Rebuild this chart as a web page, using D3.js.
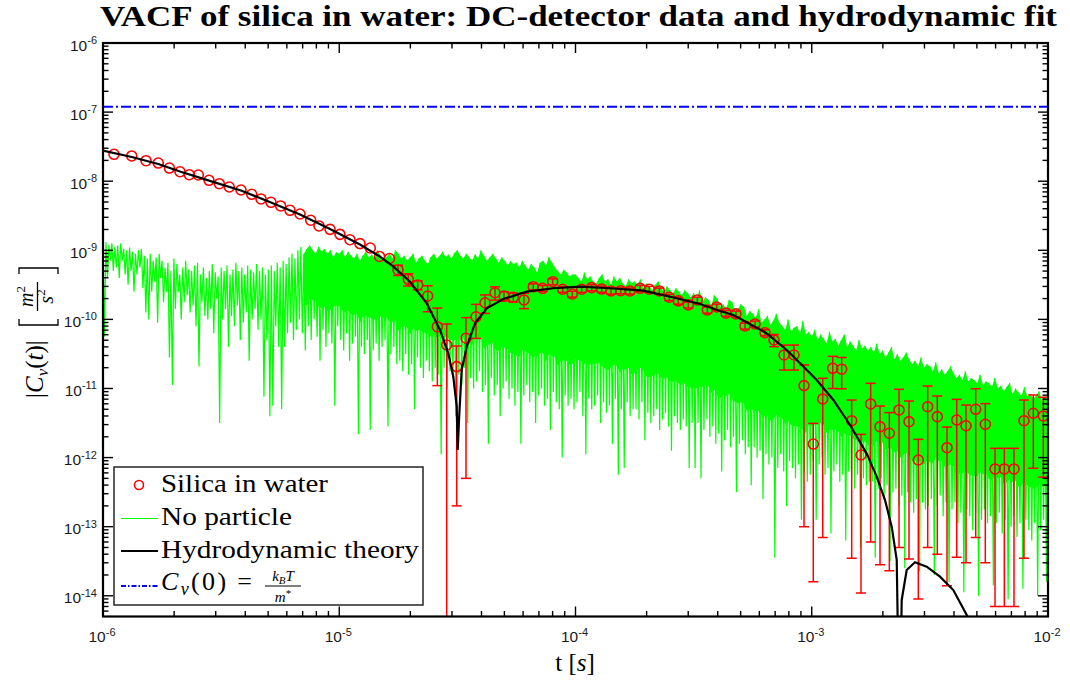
<!DOCTYPE html>
<html>
<head>
<meta charset="utf-8">
<script src="https://cdn.jsdelivr.net/npm/d3@7"></script>
<style>
  html, body { margin: 0; padding: 0; background: #fff; }
  svg { display: block; }
</style>
</head>
<body>
<div id="chart"></div>
<script>
// ---- Data ----

// Silica in water: time [s], |Cv| [m^2/s^2], error bar half width
const silicaT = [1.113e-6, 1.323e-6, 1.521e-6, 1.714e-6, 1.909e-6, 2.118e-6, 2.319e-6, 2.532e-6, 2.810e-6, 3.107e-6,
    3.424e-6, 3.838e-6, 4.261e-6, 4.665e-6, 5.141e-6, 5.651e-6, 6.187e-6, 6.822e-6, 7.572e-6, 8.209e-6,
    9.139e-6, 1.007e-5, 1.110e-5, 1.224e-5, 1.353e-5, 1.481e-5, 1.632e-5, 1.773e-5, 1.960e-5, 2.148e-5,
    2.368e-5, 2.601e-5, 2.850e-5, 3.142e-5, 3.440e-5, 3.793e-5, 4.141e-5, 4.564e-5, 4.982e-5, 5.454e-5,
    6.053e-5, 6.628e-5, 7.263e-5, 8.008e-5, 8.829e-5, 9.693e-5, 1.062e-4, 1.171e-4, 1.291e-4, 1.414e-4,
    1.554e-4, 1.701e-4, 1.875e-4, 2.053e-4, 2.263e-4, 2.495e-4, 2.724e-4, 3.003e-4, 3.278e-4, 3.614e-4,
    3.960e-4, 4.336e-4, 4.779e-4, 5.218e-4, 5.753e-4, 6.341e-4, 6.922e-4, 7.631e-4, 8.412e-4, 9.274e-4,
    1.015e-3, 1.113e-3, 1.227e-3, 1.339e-3, 1.476e-3, 1.616e-3, 1.776e-3, 1.945e-3, 2.130e-3, 2.341e-3,
    2.580e-3, 2.825e-3, 3.096e-3, 3.400e-3, 3.737e-3, 4.108e-3, 4.498e-3, 4.943e-3, 5.428e-3, 5.967e-3,
    6.533e-3, 7.180e-3, 7.913e-3, 8.665e-3, 9.552e-3];
const silicaV = [2.45e-8, 2.32e-8, 1.98e-8, 1.83e-8, 1.55e-8, 1.37e-8, 1.24e-8, 1.23e-8, 1.03e-8, 9.2e-9,
    8.24e-9, 7.46e-9, 6.46e-9, 5.53e-9, 4.95e-9, 4.38e-9, 3.79e-9, 3.35e-9, 2.72e-9, 2.25e-9,
    2.01e-9, 1.70e-9, 1.42e-9, 1.25e-9, 1.08e-9, 8.14e-10, 7.61e-10, 5.19e-10, 3.80e-10, 3.15e-10,
    2.18e-10, 7.84e-11, 4.26e-11, 2.07e-11, 5.33e-11, 1.09e-10, 1.74e-10, 2.43e-10, 2.18e-10, 2.09e-10,
    1.91e-10, 2.97e-10, 2.82e-10, 3.51e-10, 2.73e-10, 2.33e-10, 2.73e-10, 2.88e-10, 2.75e-10, 2.58e-10,
    2.60e-10, 2.58e-10, 2.82e-10, 2.73e-10, 2.58e-10, 2.09e-10, 1.85e-10, 1.62e-10, 1.91e-10, 1.37e-10,
    1.51e-10, 1.23e-10, 1.20e-10, 8.03e-11, 8.58e-11, 6.42e-11, 5.03e-11, 3.05e-11, 3.05e-11, 1.10e-11,
    1.57e-12, 7.05e-12, 1.96e-11, 1.90e-11, 3.42e-12, 1.09e-12, 5.97e-12, 2.80e-12, 2.25e-12, 4.89e-12,
    3.31e-12, 9.23e-13, 5.45e-12, 3.91e-12, 1.39e-12, 3.50e-12, 2.89e-12, 5.00e-12, 3.03e-12, 6.84e-13,
    6.84e-13, 6.84e-13, 3.42e-12, 4.38e-12, 4.00e-12];
const silicaErr = [0, 0, 0, 0, 0, 0, 0, 0, 0, 0,
    0, 0, 0, 0, 0, 0, 0, 0, 0, 0,
    0, 0, 0, 0, 0, 0, 0, 8.8e-11, 7.6e-11, 4.7e-11,
    8.9e-11, 6.74e-11, 4.3e-11, 2.05e-11, 5.28e-11, 5.6e-11, 5.2e-11, 5.3e-11, 3.3e-11, 3.1e-11,
    4.8e-11, 3.0e-11, 2.8e-11, 3.5e-11, 2.7e-11, 2.3e-11, 2.7e-11, 2.9e-11, 2.8e-11, 2.6e-11,
    2.6e-11, 2.6e-11, 2.8e-11, 2.7e-11, 2.6e-11, 2.1e-11, 1.9e-11, 1.6e-11, 1.9e-11, 1.4e-11,
    1.5e-11, 1.2e-11, 1.2e-11, 8.0e-12, 8.6e-12, 6.4e-12, 1.0e-11, 1.2e-11, 1.2e-11, 1.09e-11,
    1.554e-12, 6.98e-12, 9.6e-12, 9.1e-12, 3.385e-12, 1.079e-12, 5.91e-12, 2.772e-12, 2.227e-12, 4.84e-12,
    3.276e-12, 9.14e-13, 5.40e-12, 3.87e-12, 1.376e-12, 3.464e-12, 2.86e-12, 4.93e-12, 3.0e-12, 6.77e-13,
    6.77e-13, 6.77e-13, 3.385e-12, 3.68e-12, 3.48e-12];

// Hydrodynamic theory (|Cv|, the two dips are the sign changes)
const theoryT = [1.000e-6, 1.323e-6, 1.714e-6, 2.118e-6, 2.810e-6, 3.838e-6, 5.141e-6, 6.822e-6, 9.139e-6, 1.224e-5,
    1.488e-5, 1.694e-5, 1.993e-5, 2.345e-5, 2.670e-5, 2.894e-5, 3.039e-5, 3.142e-5, 3.173e-5, 3.213e-5,
    3.298e-5, 3.463e-5, 3.755e-5, 4.210e-5, 4.948e-5, 6.214e-5, 8.055e-5, 1.045e-4, 1.400e-4, 1.936e-4,
    2.681e-4, 3.365e-4, 4.089e-4, 4.656e-4, 6.447e-4, 7.834e-4, 8.919e-4, 1.049e-3, 1.234e-3, 1.452e-3,
    1.708e-3, 1.883e-3, 2.042e-3, 2.180e-3, 2.289e-3, 2.352e-3, 2.403e-3, 2.523e-3, 2.735e-3, 3.066e-3,
    3.490e-3, 3.974e-3, 4.529e-3, 4.910e-3];
const theoryV = [2.78e-8, 2.24e-8, 1.77e-8, 1.38e-8, 1.02e-8, 7.34e-9, 4.92e-9, 3.30e-9, 2.03e-9, 1.21e-9,
    8.08e-10, 5.79e-10, 3.51e-10, 1.71e-10, 7.03e-11, 3.23e-11, 1.48e-11, 5.45e-12, 1.29e-12, 3.50e-12,
    1.85e-11, 4.03e-11, 8.78e-11, 1.45e-10, 1.97e-10, 2.52e-10, 2.82e-10, 2.97e-10, 2.82e-10, 2.60e-10,
    2.02e-10, 1.67e-10, 1.32e-10, 1.16e-10, 6.29e-11, 3.61e-11, 2.32e-11, 1.33e-11, 6.82e-12, 2.96e-12,
    1.15e-12, 5.29e-13, 2.43e-13, 1.00e-13, 3.30e-14, 1e-16, 8.70e-15, 2.36e-14, 3.05e-14, 2.64e-14,
    1.89e-14, 1.21e-14, 5.28e-15, 3.0e-15];

// No particle: the noisy trace read per 0.0125-decade bin starting at 1e-6 s,
// as high / low values of each bin. Exponents in hundredths of a decade
// (885 -> 10^-8.85).
const noiseHigh = [
    885, 888, 892, 890, 895, 893, 890, 898, 900, 896, 902, 905, 900, 898, 908, 912, 905, 915, 910, 905,
    915, 925, 918, 930, 912, 920, 935, 925, 915, 928, 930, 922, 918, 935, 925, 940, 930, 920, 932, 938,
    925, 930, 922, 935, 928, 918, 930, 925, 935, 922, 928, 932, 920, 930, 925, 935, 928, 922, 930, 918,
    925, 915, 920, 910, 905, 912, 900, 895, 905, 898, 893, 900, 905, 895, 902, 898, 905, 900, 910, 903,
    905, 900, 910, 902, 908, 912, 905, 915, 908, 902, 910, 906, 912, 900, 908, 915, 910, 905, 912, 900,
    905, 912, 908, 915, 910, 905, 918, 912, 908, 915, 920, 910, 905, 912, 908, 902, 910, 906, 912, 904,
    900, 908, 912, 905, 910, 915, 906, 912, 900, 908, 915, 910, 905, 912, 918, 910, 915, 922, 916, 920,
    918, 925, 915, 922, 928, 920, 925, 932, 918, 915, 922, 910, 918, 925, 930, 935, 928, 932, 938, 935,
    935, 940, 945, 932, 942, 938, 945, 948, 940, 935, 945, 942, 950, 938, 945, 940, 948, 952, 942, 948,
    945, 950, 942, 955, 948, 952, 958, 950, 945, 955, 960, 952, 958, 962, 955, 960, 965, 958, 962, 968,
    962, 970, 958, 975, 968, 972, 980, 965, 970, 982, 978, 985, 972, 975, 988, 985, 978, 982, 995, 988,
    992, 998, 985, 1005, 1000, 995, 1008, 1002, 992, 1005, 1010, 1015, 1000, 1018, 1012, 1010, 1020, 1002, 1022, 1018,
    1025, 1015, 1030, 1022, 1028, 1035, 1018, 1032, 1028, 1038, 1030, 1022, 1040, 1032, 1038, 1045, 1030, 1042, 1038, 1045,
    1040, 1048, 1035, 1050, 1045, 1055, 1048, 1040, 1058, 1050, 1060, 1055, 1048, 1058, 1065, 1060, 1068, 1055, 1070, 1065,
    1068, 1075, 1062, 1078, 1072, 1080, 1075, 1068, 1078, 1085, 1080, 1088, 1075, 1090, 1085, 1088, 1092, 1080, 1095, 1090,
    1092, 1098, 1085, 1100, 1096, 1104, 1098, 1092, 1108, 1100, 1106, 1110, 1098, 1112, 1108, 1115, 1110, 1104, 1118, 1112,
    1118];
const noiseLow = [
    1025, 940, 915, 930, 925, 940, 915, 935, 950, 930, 960, 935, 925, 955, 990, 1000, 960, 945, 1005, 940,
    975, 960, 1055, 1095, 985, 960, 1000, 975, 965, 990, 980, 1010, 1068, 975, 995, 1000, 985, 1020, 970, 1150,
    1000, 985, 1040, 995, 1010, 980, 1030, 1005, 990, 1060, 1000, 985, 1015, 1000, 1112, 1030, 1140, 1125, 1010, 1040,
    1130, 1040, 1020, 1005, 1030, 1015, 1000, 1020, 1045, 1010, 1030, 1000, 1025, 1060, 1015, 1040, 1020, 1035, 1125, 1010,
    1030, 1045, 1020, 1060, 1035, 1025, 1166, 1040, 1050, 1030, 1160, 1045, 1035, 1060, 1040, 1030, 1155, 1050, 1040, 1065,
    1060, 1075, 1050, 1080, 1065, 1130, 1055, 1070, 1085, 1060, 1075, 1090, 1070, 1080, 1195, 1070, 1100, 1075, 1085, 1140,
    1080, 1095, 1070, 1150, 1085, 1100, 1090, 1075, 1105, 1095, 1180, 1085, 1110, 1095, 1140, 1100, 1090, 1115, 1100, 1125,
    1105, 1180, 1110, 1095, 1120, 1105, 1150, 1110, 1100, 1125, 1115, 1160, 1105, 1120, 1130, 1200, 1110, 1125, 1115, 1130,
    1120, 1105, 1140, 1195, 1115, 1130, 1125, 1110, 1150, 1120, 1135, 1125, 1180, 1115, 1225, 1130, 1215, 1120, 1140, 1130,
    1130, 1145, 1120, 1175, 1135, 1150, 1140, 1130, 1160, 1145, 1135, 1155, 1190, 1140, 1150, 1160, 1145, 1155, 1215, 1150,
    1215, 1150, 1230, 1160, 1145, 1170, 1155, 1180, 1165, 1220, 1175, 1160, 1185, 1170, 1250, 1180, 1175, 1195, 1185, 1240,
    1185, 1200, 1190, 1260, 1195, 1210, 1200, 1345, 1215, 1195, 1220, 1270, 1205, 1215, 1230, 1210, 1290, 1220, 1235, 1225,
    1205, 1290, 1210, 1200, 1225, 1215, 1310, 1220, 1210, 1235, 1225, 1320, 1220, 1230, 1245, 1225, 1330, 1230, 1240, 1235,
    1235, 1345, 1245, 1230, 1260, 1240, 1350, 1250, 1245, 1270, 1255, 1360, 1250, 1265, 1280, 1260, 1365, 1265, 1275, 1270,
    1260, 1370, 1270, 1255, 1285, 1265, 1380, 1275, 1265, 1295, 1280, 1395, 1275, 1285, 1305, 1280, 1400, 1290, 1275, 1295,
    1285, 1385, 1295, 1280, 1310, 1290, 1405, 1300, 1285, 1315, 1295, 1390, 1290, 1305, 1320, 1295, 1400, 1305, 1290, 1380,
    1395];
const noiseBinStart = -6;      // log10 of the first bin time
const noiseBinWidth = 0.0125;  // decades per bin
const noiseDenseFrom = 68;     // from this bin on the trace is a dense band

// Cv(0) = kB T / m*
const cv0 = 1.2e-7;

const xTickValues = [1e-6, 1e-5, 1e-4, 1e-3, 1e-2];
const xTickLabels = ['-6', '-5', '-4', '-3', '-2'];
const yTickValues = [1e-6, 1e-7, 1e-8, 1e-9, 1e-10, 1e-11, 1e-12, 1e-13, 1e-14];
const yTickLabels = ['-6', '-7', '-8', '-9', '-10', '-11', '-12', '-13', '-14'];

// ---- Layout ----
const W = 1070, H = 684;
const plot = { left: 103, right: 1048, top: 43, bottom: 616.5 };
const serif = "'Liberation Serif', 'Times New Roman', serif";
const sans = "'Liberation Sans', Arial, Helvetica, sans-serif";

const svg = d3.select('#chart').append('svg')
    .attr('width', W)
    .attr('height', H);

const x = d3.scaleLog().domain([1e-6, 1e-2]).range([plot.left, plot.right]);
const y = d3.scaleLog().domain([Math.pow(10, -14.3), 1e-6]).range([plot.bottom, plot.top]);

svg.append('clipPath').attr('id', 'clip')
    .append('rect')
    .attr('x', plot.left).attr('y', plot.top)
    .attr('width', plot.right - plot.left)
    .attr('height', plot.bottom - plot.top);

const g = svg.append('g').attr('clip-path', 'url(#clip)');

// ---- No particle (green) ----
const ex = c => Math.pow(10, -c / 100);
const binT = i => Math.pow(10, noiseBinStart + i * noiseBinWidth);

// dense part: solid from each bin's high down most of the way to the
// shallowest neighbouring low; the trace itself draws the ragged rest
const band = [];
for (let i = noiseDenseFrom; i < noiseHigh.length; i++) {
    const lows = [noiseLow[i - 1], noiseLow[i], noiseLow[i + 1]].filter(v => v != null);
    const lo = Math.min(...lows);
    band.push({ t: binT(i), hi: ex(noiseHigh[i]), lo: ex(noiseHigh[i] + 0.72 * (lo - noiseHigh[i])) });
}
g.append('path')
    .datum(band)
    .attr('fill', '#00ff00')
    .attr('d', d3.area()
        .x(d => x(d.t))
        .y0(d => y(d.lo))
        .y1(d => y(d.hi)));

const trace = [];
noiseHigh.forEach((c, i) => {
    trace.push([binT(i), ex(c)]);
    trace.push([binT(i + 0.5), ex(noiseLow[i])]);
});
g.append('path')
    .datum(trace)
    .attr('fill', 'none')
    .attr('stroke', '#00ff00')
    .attr('stroke-width', 1.2)
    .attr('stroke-linejoin', 'bevel')
    .attr('d', d3.line().x(d => x(d[0])).y(d => y(d[1])));

// ---- Silica in water (red) ----
const silica = silicaT.map((t, i) => ({ t: t, v: silicaV[i], e: silicaErr[i] }));
const bars = g.append('g')
    .attr('stroke', '#ff0000')
    .attr('stroke-width', 1.5)
    .attr('fill', 'none');
silica.forEach(d => {
    if (d.e <= 0) return;
    const cx = x(d.t);
    const hi = d.v + d.e, lo = d.v - d.e;
    const yHi = y(hi);
    const yLo = lo > 0 ? y(lo) : plot.bottom + 10;
    bars.append('line').attr('x1', cx).attr('x2', cx).attr('y1', yHi).attr('y2', yLo);
    bars.append('line').attr('x1', cx - 5).attr('x2', cx + 5).attr('y1', yHi).attr('y2', yHi);
    if (lo > 0) {
        bars.append('line').attr('x1', cx - 5).attr('x2', cx + 5).attr('y1', yLo).attr('y2', yLo);
    }
});
g.append('g').selectAll('circle')
    .data(silica)
    .join('circle')
    .attr('cx', d => x(d.t))
    .attr('cy', d => y(d.v))
    .attr('r', 5)
    .attr('fill', 'none')
    .attr('stroke', '#ff0000')
    .attr('stroke-width', 1.6);

// ---- Hydrodynamic theory (black) ----
g.append('path')
    .datum(theoryT.map((t, i) => [t, theoryV[i]]))
    .attr('fill', 'none')
    .attr('stroke', '#000')
    .attr('stroke-width', 2.2)
    .attr('d', d3.line().x(d => x(d[0])).y(d => y(d[1])));

// ---- Cv(0) (blue dash-dot) ----
g.append('line')
    .attr('x1', x(1e-6)).attr('x2', x(1e-2))
    .attr('y1', y(cv0)).attr('y2', y(cv0))
    .attr('stroke', '#0000ff')
    .attr('stroke-width', 2)
    .attr('stroke-dasharray', '10,3,2,3');

// ---- Axes box and ticks ----
const axes = svg.append('g').attr('stroke', '#000');
for (let e = -6; e <= -2; e++) {
    for (let k = 1; k <= 9; k++) {
        const v = k * Math.pow(10, e);
        if (v > 1.0001e-2) continue;
        const px = x(v);
        const len = k === 1 ? 10 : 5.5;
        axes.append('line').attr('x1', px).attr('x2', px)
            .attr('y1', plot.bottom).attr('y2', plot.bottom - len).attr('stroke-width', 1.4);
        axes.append('line').attr('x1', px).attr('x2', px)
            .attr('y1', plot.top).attr('y2', plot.top + len).attr('stroke-width', 1.4);
    }
}
for (let e = -15; e <= -6; e++) {
    for (let k = 1; k <= 9; k++) {
        const v = k * Math.pow(10, e);
        if (v < Math.pow(10, -14.3) || v > 1.0001e-6) continue;
        const py = y(v);
        const len = k === 1 ? 10 : 5.5;
        axes.append('line').attr('y1', py).attr('y2', py)
            .attr('x1', plot.left).attr('x2', plot.left + len).attr('stroke-width', 1.4);
        axes.append('line').attr('y1', py).attr('y2', py)
            .attr('x1', plot.right).attr('x2', plot.right - len).attr('stroke-width', 1.4);
    }
}
axes.append('rect')
    .attr('x', plot.left).attr('y', plot.top)
    .attr('width', plot.right - plot.left)
    .attr('height', plot.bottom - plot.top)
    .attr('fill', 'none')
    .attr('stroke-width', 2.2);

// Tick labels: 10^n
function powLabel(px, py, anchor, expo) {
    const t = svg.append('text')
        .attr('x', px).attr('y', py)
        .attr('text-anchor', anchor)
        .attr('font-family', sans)
        .attr('font-size', 15.5)
        .attr('fill', '#1a1a1a');
    t.append('tspan').text('10');
    t.append('tspan').attr('font-size', 11).attr('dy', -6.5).text(expo);
}
xTickValues.forEach((v, i) => powLabel(x(v) - 1, 642, 'middle', xTickLabels[i]));
yTickValues.forEach((v, i) => powLabel(97, y(v) + 7.5, 'end', yTickLabels[i]));

// ---- Title and axis labels ----
svg.append('text')
    .attr('x', 578.5).attr('y', 26)
    .attr('text-anchor', 'middle')
    .attr('font-family', serif)
    .attr('font-weight', 'bold')
    .attr('font-size', 29)
    .attr('textLength', 957)
    .attr('lengthAdjust', 'spacingAndGlyphs')
    .text('VACF of silica in water: DC-detector data and hydrodynamic fit');

const xl = svg.append('text')
    .attr('x', 575).attr('y', 671)
    .attr('text-anchor', 'middle')
    .attr('font-family', serif)
    .attr('font-size', 25);
xl.append('tspan').text('t [');
xl.append('tspan').attr('font-style', 'italic').text('s');
xl.append('tspan').text(']');

// y label, rotated
const yl = svg.append('g')
    .attr('transform', 'translate(43,330) rotate(-90)')
    .attr('font-family', serif);
const yt = yl.append('text').attr('x', -68).attr('y', 0).attr('font-size', 25);
yt.append('tspan').text('|');
yt.append('tspan').attr('font-style', 'italic').text('C');
yt.append('tspan').attr('font-style', 'italic').attr('font-size', 17).attr('dy', 5).text('v');
yt.append('tspan').attr('dy', -5).text('(');
yt.append('tspan').attr('font-style', 'italic').text('t');
yt.append('tspan').text(')|');
yl.append('path')
    .attr('d', 'M11,-24 H5 V15 H11 M56,-24 H62 V15 H56')
    .attr('fill', 'none').attr('stroke', '#000').attr('stroke-width', 1.3);
const num = yl.append('text').attr('x', 33.5).attr('y', -10).attr('text-anchor', 'middle').attr('font-size', 20);
num.append('tspan').attr('font-style', 'italic').text('m');
num.append('tspan').attr('font-size', 13).attr('dy', -8).text('2');
yl.append('line').attr('x1', 19).attr('x2', 48).attr('y1', -5.5).attr('y2', -5.5)
    .attr('stroke', '#000').attr('stroke-width', 1.3);
const den = yl.append('text').attr('x', 33.5).attr('y', 10).attr('text-anchor', 'middle').attr('font-size', 20);
den.append('tspan').attr('font-style', 'italic').text('s');
den.append('tspan').attr('font-size', 13).attr('dy', -8).text('2');

// ---- Legend ----
const leg = svg.append('g').attr('font-family', serif);
leg.append('rect')
    .attr('x', 114).attr('y', 467)
    .attr('width', 309).attr('height', 138)
    .attr('fill', '#fff')
    .attr('stroke', '#262626')
    .attr('stroke-width', 1.5);

leg.append('circle').attr('cx', 139).attr('cy', 485).attr('r', 4.5)
    .attr('fill', 'none').attr('stroke', '#ff0000').attr('stroke-width', 1.6);
leg.append('text').attr('x', 161).attr('y', 491.5).attr('font-size', 25)
    .attr('textLength', 167).attr('lengthAdjust', 'spacingAndGlyphs')
    .text('Silica in water');

leg.append('line').attr('x1', 121).attr('x2', 158).attr('y1', 518.5).attr('y2', 518.5)
    .attr('stroke', '#00ff00').attr('stroke-width', 1);
leg.append('text').attr('x', 161).attr('y', 524.5).attr('font-size', 25)
    .attr('textLength', 131).attr('lengthAdjust', 'spacingAndGlyphs')
    .text('No particle');

leg.append('line').attr('x1', 121).attr('x2', 158).attr('y1', 551).attr('y2', 551)
    .attr('stroke', '#000').attr('stroke-width', 2.2);
leg.append('text').attr('x', 161).attr('y', 557.5).attr('font-size', 25)
    .attr('textLength', 258).attr('lengthAdjust', 'spacingAndGlyphs')
    .text('Hydrodynamic theory');

leg.append('line').attr('x1', 121).attr('x2', 158).attr('y1', 586).attr('y2', 586)
    .attr('stroke', '#0000ff').attr('stroke-width', 2)
    .attr('stroke-dasharray', '5,2,1.5,2');
const eq = leg.append('text').attr('x', 161).attr('y', 590).attr('font-size', 26)
    .attr('textLength', 91).attr('lengthAdjust', 'spacing');
eq.append('tspan').attr('font-style', 'italic').text('C');
eq.append('tspan').attr('font-style', 'italic').attr('font-size', 18).attr('dy', 5).text('v');
eq.append('tspan').attr('dy', -5).text('(0) =');
const fn = leg.append('text').attr('x', 283).attr('y', 581).attr('text-anchor', 'middle').attr('font-size', 15);
fn.append('tspan').attr('font-style', 'italic').text('k');
fn.append('tspan').attr('font-style', 'italic').attr('font-size', 11).attr('dy', 3).text('B');
fn.append('tspan').attr('font-style', 'italic').attr('dy', -3).text('T');
leg.append('line').attr('x1', 265).attr('x2', 301).attr('y1', 586).attr('y2', 586)
    .attr('stroke', '#000').attr('stroke-width', 1.2);
const fd = leg.append('text').attr('x', 283).attr('y', 601.5).attr('text-anchor', 'middle').attr('font-size', 15);
fd.append('tspan').attr('font-style', 'italic').text('m');
fd.append('tspan').attr('font-size', 11).attr('dy', -5).text('*');
</script>
</body>
</html>
